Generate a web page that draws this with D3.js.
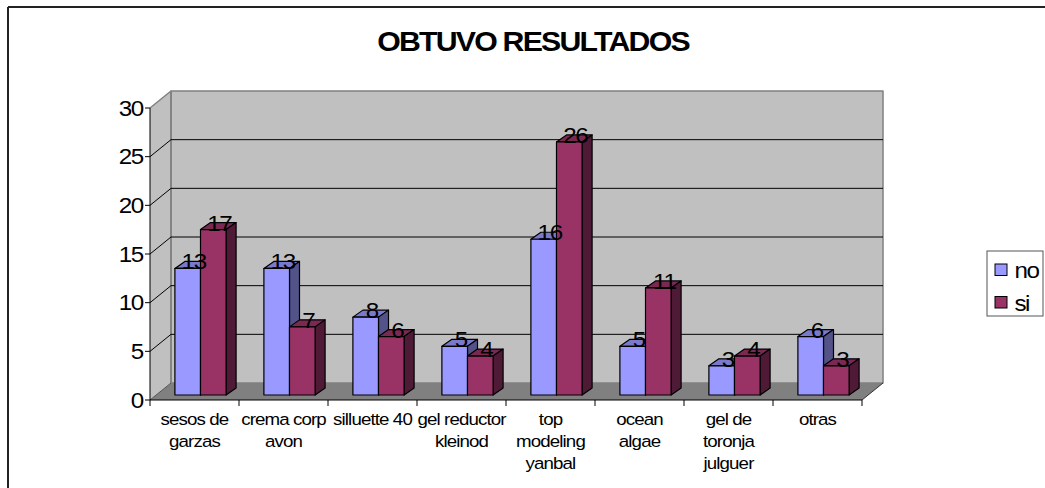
<!DOCTYPE html>
<html><head><meta charset="utf-8">
<script src="https://cdn.jsdelivr.net/npm/d3@7"></script>
<style>html,body{margin:0;padding:0;background:#fff}svg{display:block}text{font-family:"Liberation Sans",Arial,sans-serif;fill:#000}</style>
</head><body><svg id="c" width="1045" height="488"></svg>
<script>
const categories=[["sesos de","garzas"],["crema corp","avon"],["silluette 40"],["gel reductor","kleinod"],["top","modeling","yanbal"],["ocean","algae"],["gel de","toronja","julguer"],["otras"]];
const seriesNames=["no","si"];
const noValues=[13,13,8,5,16,5,3,6];
const siValues=[17,7,6,4,26,11,4,3];
const yTicks=[0,5,10,15,20,25,30];
const colors={no:["#9999ff","#7a7acc","#53538a"],si:["#993366","#7a2952","#4f1a35"]};

const svg=d3.select("#c");
const y=d3.scaleLinear().domain([0,30]).range([400,108]);
const x=d3.scaleBand().domain(categories.map((d,i)=>i)).range([150,862]);
const dx=21,dy=17;               // wall depth
const bx=10,by=7;                // bar depth
const shiftX=6,shiftY=5;         // bars sit inside the floor
const barW=25.6;
const pad=(x.bandwidth()-2*barW)/2;
const poly=(pts,fill,stroke,sw)=>svg.append("polygon").attr("points",pts.map(p=>p.join(",")).join(" ")).attr("fill",fill).attr("stroke",stroke||"none").attr("stroke-width",sw||0).attr("stroke-linejoin","round");
const line=(a,b,c,w)=>svg.append("line").attr("x1",a[0]).attr("y1",a[1]).attr("x2",b[0]).attr("y2",b[1]).attr("stroke",c).attr("stroke-width",w||1);
// the reference's glyphs are slightly wider than they are tall
const label=(px,py,s,size,spacing,anchor)=>svg.append("text")
  .attr("transform",`translate(${px},${py}) scale(1.1,1)`)
  .attr("text-anchor",anchor||"middle").attr("font-size",size).attr("letter-spacing",spacing).text(s);

// chart frame
line([8,7],[1045,7],"#222",2);
line([8,7],[8,488],"#222",2);

// title
label(533,50.5,"OBTUVO RESULTADOS",27.5,-1.6).attr("font-weight","bold");

const [x0,x1]=x.range();
// walls and floor
poly([[x0,y(0)],[x0+dx,y(0)-dy],[x0+dx,y(30)-dy],[x0,y(30)]],"#c0c0c0");
poly([[x0+dx,y(0)-dy],[x1+dx,y(0)-dy],[x1+dx,y(30)-dy],[x0+dx,y(30)-dy]],"#c0c0c0","#808080",1.5);
poly([[x0,y(0)],[x1,y(0)],[x1+dx,y(0)-dy],[x0+dx,y(0)-dy]],"#808080");
line([x0+dx,y(0)-dy],[x0+dx,y(30)-dy],"#808080",1.5);
// gridlines
yTicks.forEach(t=>{
  if(t>0&&t<30){
    line([x0,y(t)],[x0+dx,y(t)-dy],"#000",1);
    line([x0+dx,y(t)-dy],[x1+dx,y(t)-dy],"#000",1);
  }
});
line([x0,y(30)],[x0+dx,y(30)-dy],"#808080",1.5);
line([x0,y(0)],[x0+dx,y(0)-dy],"#555",1);
line([x1,y(0)],[x1+dx,y(0)-dy],"#333",1);

// axes
line([x0,y(0)],[x0,y(30)],"#000",1);
line([x0,y(0)],[x1,y(0)],"#000",1.2);
yTicks.forEach(t=>{
  line([x0-5,y(t)],[x0,y(t)],"#000",1);
  label(x0-7,y(t)+7.5,t,22,-1.2,"end");
});
d3.range(categories.length+1).forEach(i=>{
  const px=i<categories.length?x(i):x1;
  line([px,y(0)],[px,y(0)+6],"#000",1);
});
categories.forEach((lines,i)=>{
  lines.forEach((s,j)=>label(x(i)+x.bandwidth()/2,y(0)+25+j*22,s,17,-0.8));
});

// bars
const labels=[];
categories.forEach((c,i)=>{
  [noValues[i],siValues[i]].forEach((v,k)=>{
    const name=seriesNames[k],col=colors[name];
    const l=x(i)+pad+shiftX+k*barW,r=l+barW,b=y(0)-shiftY,t=y(v)-shiftY;
    poly([[l,t],[l+bx,t-by],[r+bx,t-by],[r,t]],col[1],"#000",1.2);
    poly([[r,t],[r+bx,t-by],[r+bx,b-by],[r,b]],col[2],"#000",1.2);
    poly([[l,t],[r,t],[r,b],[l,b]],col[0],"#000",1.2);
    labels.push({v,x:(l+r)/2+6,y:t+1});
  });
});
labels.forEach(d=>label(d.x,d.y,d.v,22,-1.2));

// legend
svg.append("rect").attr("x",987).attr("y",251).attr("width",56).attr("height",65).attr("fill","#fff").attr("stroke","#555").attr("stroke-width",1);
seriesNames.forEach((n,i)=>{
  const ly=264+i*32.5;
  svg.append("rect").attr("x",995).attr("y",ly).attr("width",12).attr("height",11.5).attr("fill",colors[n][0]).attr("stroke","#000").attr("stroke-width",1);
  label(1014.5,ly+14,n,22,-1.4,"start");
});
</script></body></html>
